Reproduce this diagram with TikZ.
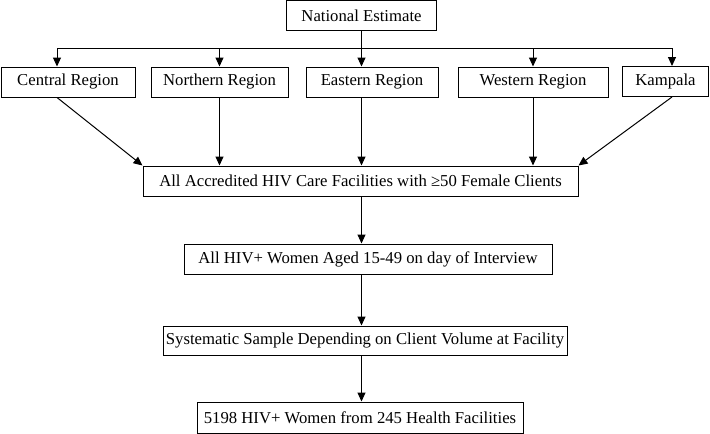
\documentclass[tikz,border=0pt]{standalone}
\usepackage{fontspec}
\setmainfont{Liberation Serif}
\usetikzlibrary{arrows.meta,calc}
\begin{document}
\begin{tikzpicture}[x=1pt,y=-1pt,
  box/.style={draw,line width=1pt,inner sep=0pt,font=\fontsize{16.7}{19}\selectfont,anchor=center},
  arr/.style={line width=1pt,-{Triangle[length=9pt,width=8pt]}},
  ln/.style={line width=1pt}]
\useasboundingbox (0,0) rectangle (710,434);
\node[box,minimum width=150pt,minimum height=30pt] (ne) at (361.5,15.5) {National Estimate};
\node[box,minimum width=134pt,minimum height=30pt] (c) at (68,82) {Central Region};
\node[box,minimum width=137pt,minimum height=30pt] (n) at (219.5,82) {Northern Region};
\node[box,minimum width=132pt,minimum height=30pt] (e) at (372,82) {Eastern Region};
\node[box,minimum width=150pt,minimum height=30pt] (w) at (533,82) {Western Region};
\node[box,minimum width=86pt,minimum height=30pt] (k) at (665.5,81.5) {Kampala};
\node[box,minimum width=435pt,minimum height=30pt] (f) at (360.5,181) {All Accredited HIV Care Facilities with \char"2265 50 Female Clients};
\node[box,minimum width=368pt,minimum height=30pt] (wo) at (368,259) {All HIV+ Women Aged 15-49 on day of Interview};
\node[box,minimum width=404pt,minimum height=29pt] (s) at (365,340.5) {Systematic Sample Depending on Client Volume at Facility};
\node[box,minimum width=326pt,minimum height=31pt] (fin) at (360,417.5) {5198 HIV+ Women from 245 Health Facilities};
% top distribution
\coordinate (hl) at (57,48);
\coordinate (hr) at (672,48);
\draw[ln] (hl) -- (hr);
\draw[arr] (ne.south) -- (ne.south |- e.north);
\draw[arr] (hl) -- (hl |- c.north);
\draw[arr] (n.north |- hl) -- (n.north);
\draw[arr] (w.north |- hl) -- (w.north);
\draw[arr] (hr) -- (hr |- k.north);
% to facilities
\coordinate (cb) at (57,97);
\coordinate (kb) at (672,97);
\draw[arr] (cb |- c.south) -- (f.north west);
\draw[arr] (n.south) -- (n.south |- f.north);
\draw[arr] (ne.south |- e.south) -- (ne.south |- f.north);
\draw[arr] (w.south) -- (w.south |- f.north);
\draw[arr] (kb |- k.south) -- (f.north east);
% chain
\draw[arr] (ne.south |- f.south) -- (ne.south |- wo.north);
\draw[arr] (ne.south |- wo.south) -- (ne.south |- s.north);
\draw[arr] (ne.south |- s.south) -- (ne.south |- fin.north);
\end{tikzpicture}
\end{document}
